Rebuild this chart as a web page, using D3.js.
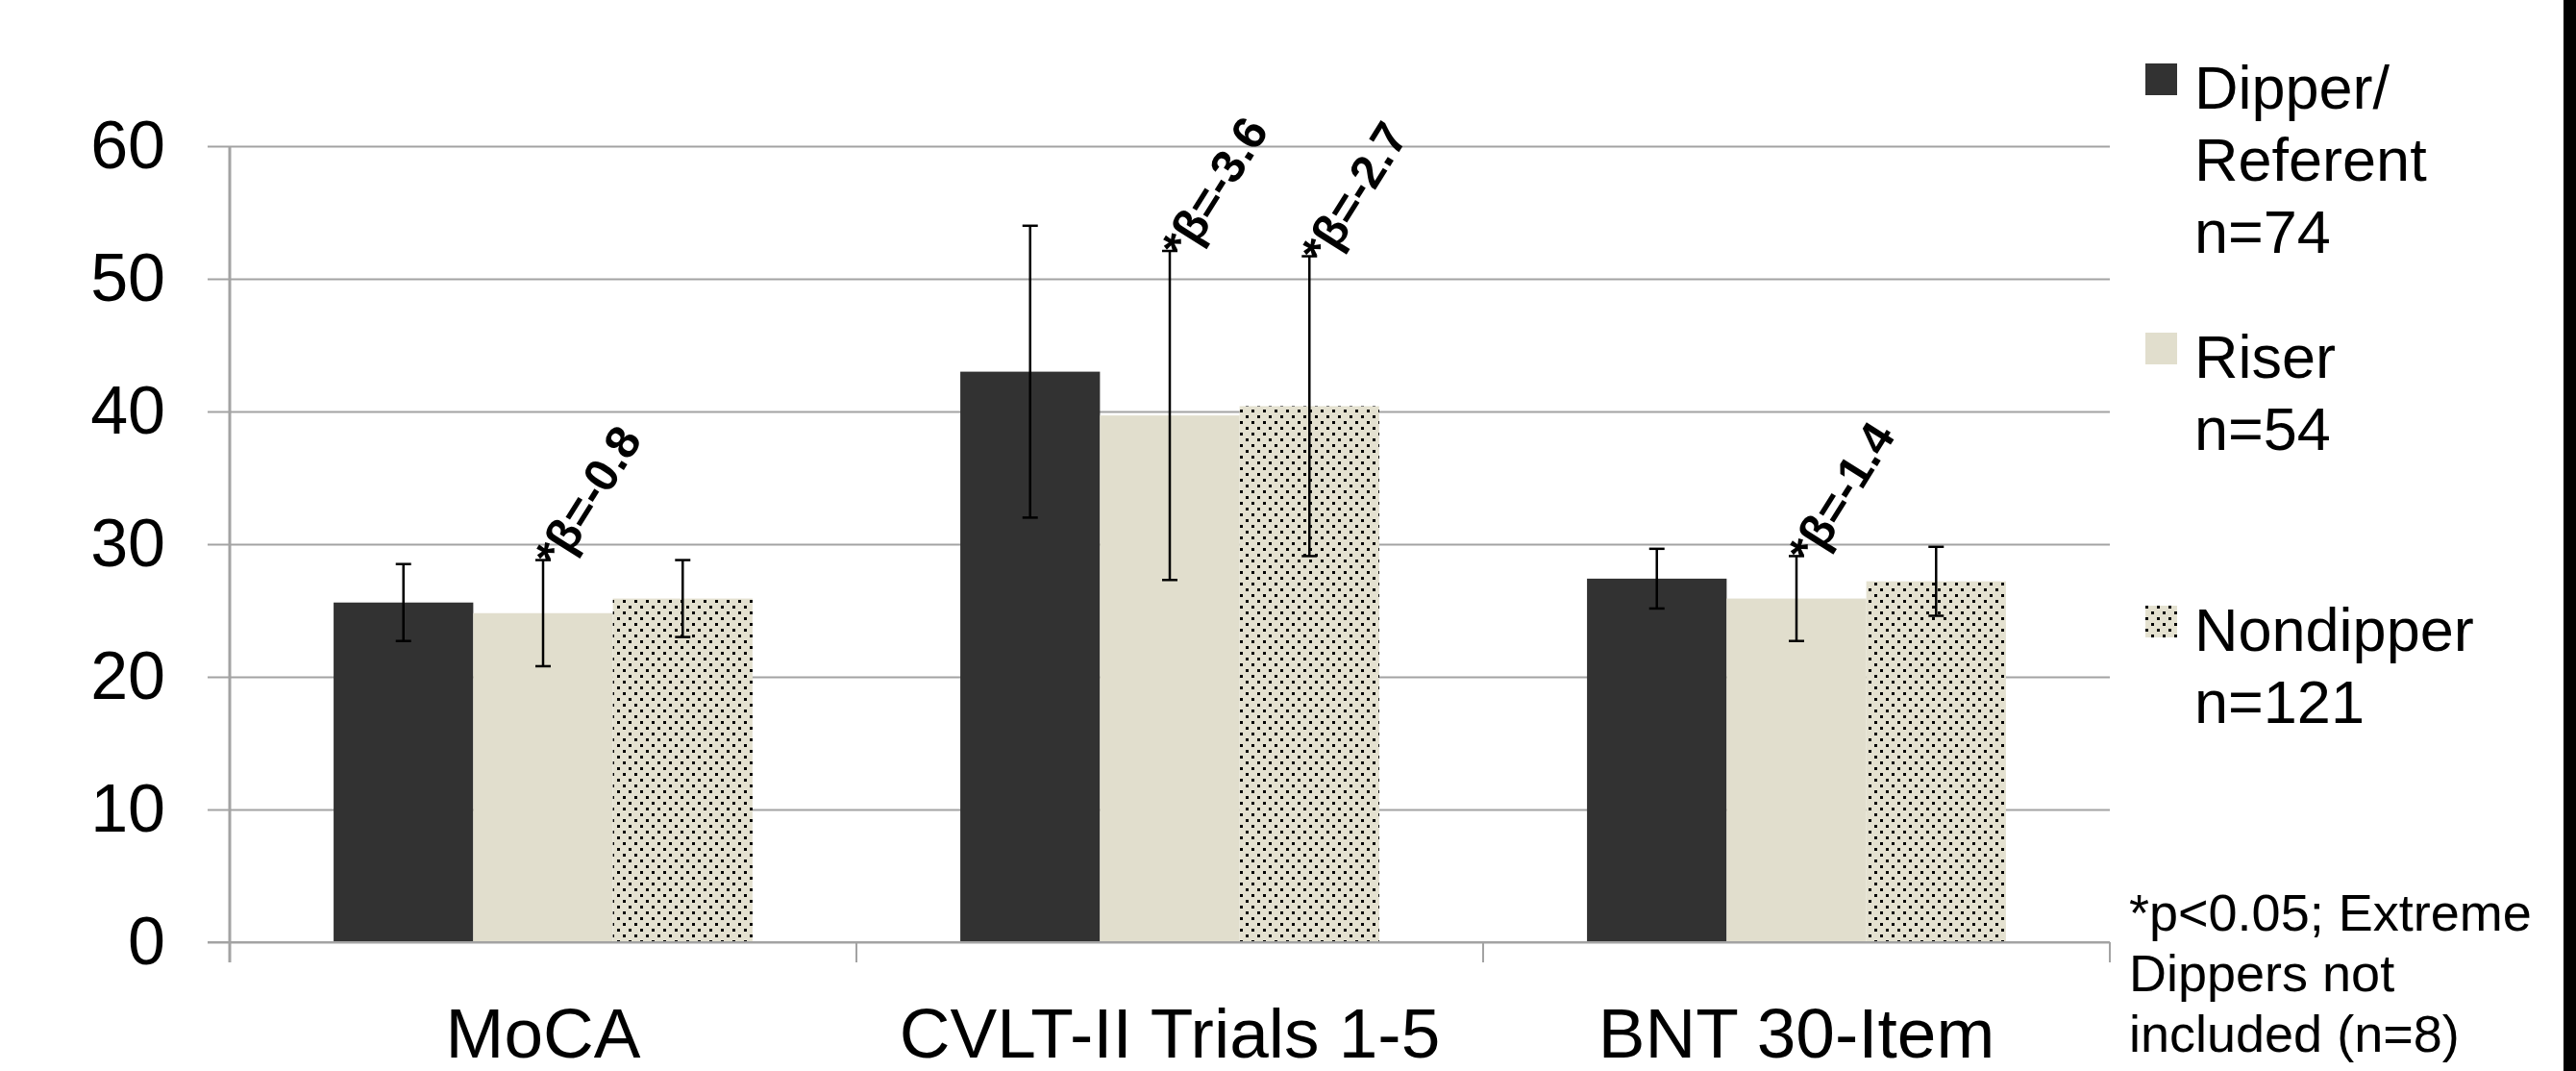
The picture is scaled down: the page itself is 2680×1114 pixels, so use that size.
<!DOCTYPE html>
<html>
<head>
<meta charset="utf-8">
<script src="https://cdn.jsdelivr.net/npm/d3@7"></script>
<style>
  body { margin: 0; background: #fff; }
  svg { display: block; font-family: "Liberation Sans", Arial, sans-serif; }
</style>
</head>
<body>
<div id="chart"></div>
<script>
// data
const categories = ["MoCA", "CVLT-II Trials 1-5", "BNT 30-Item"];
const seriesNames = ["Dipper", "Riser", "Nondipper"];
const legendLabels = [["Dipper/", "Referent", "n=74"], ["Riser", "n=54"], ["Nondipper", "n=121"]];

const dipperMeans = [25.6, 43.0, 27.4];
const dipperErr = [2.9, 11.0, 2.25];
const riserMeans = [24.8, 39.7, 25.9];
const riserErr = [4.0, 12.4, 3.2];
const nondipperMeans = [25.9, 40.4, 27.2];
const nondipperErr = [2.9, 11.3, 2.6];

const riserBeta = ["*β=-0.8", "*β=-3.6", "*β=-1.4"];
const nondipperBeta = [null, "*β=-2.7", null];

const yTicks = [0, 10, 20, 30, 40, 50, 60];
const noteLines = ["*p<0.05; Extreme", "Dippers not", "included (n=8)"];

const W = 2680, H = 1114;
const plot = {left: 239, right: 2195, top: 152, bottom: 980};

const svg = d3.select("#chart").append("svg")
    .attr("width", W)
    .attr("height", H)
    .attr("viewBox", `0 0 ${W} ${H}`);

svg.append("rect").attr("width", W).attr("height", H).attr("fill", "#fff");

// dotted fill for the nondipper bars
const defs = svg.append("defs");
const pat = defs.append("pattern")
    .attr("id", "dots")
    .attr("patternUnits", "userSpaceOnUse")
    .attr("width", 12)
    .attr("height", 12);
pat.append("rect").attr("width", 12).attr("height", 12).attr("fill", "#e4e1d0");
pat.append("rect").attr("x", 0).attr("y", 0).attr("width", 3).attr("height", 3).attr("fill", "#000");
pat.append("rect").attr("x", 6).attr("y", 6).attr("width", 3).attr("height", 3).attr("fill", "#000");

const fills = ["#323232", "#e1decd", "url(#dots)"];

const series = [
    {name: seriesNames[0], means: dipperMeans, err: dipperErr, beta: [null, null, null]},
    {name: seriesNames[1], means: riserMeans, err: riserErr, beta: riserBeta},
    {name: seriesNames[2], means: nondipperMeans, err: nondipperErr, beta: nondipperBeta}
];

const y = d3.scaleLinear().domain([0, 60]).range([plot.bottom, plot.top]);
const x0 = d3.scaleBand().domain(categories).range([plot.left, plot.right]);
const x1 = d3.scaleBand().domain(seriesNames).range([0, x0.bandwidth()]).paddingInner(0).paddingOuter(0.744);

// gridlines + y labels
const gridAxis = d3.axisLeft(y)
    .tickValues(yTicks)
    .tickSize(plot.right - 216)
    .tickPadding(44)
    .tickFormat(d3.format("d"));

const gy = svg.append("g")
    .attr("transform", `translate(${plot.right},0)`)
    .call(gridAxis);
gy.select(".domain").remove();
gy.selectAll("line").attr("stroke", "#a3a3a3").attr("stroke-width", 2);
gy.selectAll("text")
    .attr("fill", "#000")
    .style("font-size", "70px")
    .style("font-family", "'Liberation Sans', Arial, sans-serif");

// y axis line
svg.append("line")
    .attr("x1", plot.left).attr("x2", plot.left)
    .attr("y1", plot.top).attr("y2", plot.bottom + 21)
    .attr("stroke", "#a3a3a3").attr("stroke-width", 3);

// category boundary ticks
const bounds = categories.map(c => x0(c)).concat([plot.right]);
svg.append("g").selectAll("line")
    .data(bounds.slice(1))
    .join("line")
    .attr("x1", d => d).attr("x2", d => d)
    .attr("y1", plot.bottom).attr("y2", plot.bottom + 21)
    .attr("stroke", "#a3a3a3").attr("stroke-width", 2);

// bars
const groups = svg.append("g").selectAll("g")
    .data(series)
    .join("g");

groups.selectAll("rect")
    .data((s, si) => categories.map((c, i) => ({c, v: s.means[i], si, name: s.name})))
    .join("rect")
    .attr("x", d => x0(d.c) + x1(d.name))
    .attr("y", d => y(d.v))
    .attr("width", x1.bandwidth())
    .attr("height", d => y(0) - y(d.v))
    .attr("fill", d => fills[d.si]);

// redraw zero line over bar bottoms
svg.append("line")
    .attr("x1", 216).attr("x2", plot.right)
    .attr("y1", y(0)).attr("y2", y(0))
    .attr("stroke", "#a3a3a3").attr("stroke-width", 2);

// error bars
const errData = [];
series.forEach(s => categories.forEach((c, i) => {
    errData.push({
        cx: x0(c) + x1(s.name) + x1.bandwidth() / 2,
        hi: s.means[i] + s.err[i],
        lo: s.means[i] - s.err[i],
        beta: s.beta[i]
    });
}));

const eb = svg.append("g").attr("stroke", "#000").attr("stroke-width", 2.5);
eb.selectAll(".stem").data(errData).join("line")
    .attr("x1", d => d.cx).attr("x2", d => d.cx)
    .attr("y1", d => y(d.hi)).attr("y2", d => y(d.lo));
eb.selectAll(".capHi").data(errData).join("line")
    .attr("x1", d => d.cx - 8).attr("x2", d => d.cx + 8)
    .attr("y1", d => y(d.hi)).attr("y2", d => y(d.hi));
eb.selectAll(".capLo").data(errData).join("line")
    .attr("x1", d => d.cx - 8).attr("x2", d => d.cx + 8)
    .attr("y1", d => y(d.lo)).attr("y2", d => y(d.lo));

// beta annotations
svg.append("g").selectAll("text")
    .data(errData.filter(d => d.beta))
    .join("text")
    .attr("transform", d => `translate(${d.cx + 18},${y(d.hi) + 12}) rotate(-58)`)
    .style("font-size", "49px")
    .style("font-weight", "bold")
    .attr("fill", "#000")
    .text(d => d.beta);

// category labels
svg.append("g").selectAll("text")
    .data(categories)
    .join("text")
    .attr("x", d => x0(d) + x0.bandwidth() / 2)
    .attr("y", 1100)
    .attr("text-anchor", "middle")
    .style("font-size", "73px")
    .attr("fill", "#000")
    .text(d => d);

// legend
const legendTop = [66, 346, 630];
const leg = svg.append("g").selectAll("g")
    .data(series)
    .join("g")
    .attr("transform", (d, i) => `translate(2232,${legendTop[i]})`);

leg.append("rect")
    .attr("width", 33).attr("height", 33)
    .attr("fill", (d, i) => fills[i]);

leg.append("text")
    .attr("x", 51)
    .attr("y", 47)
    .style("font-size", "63px")
    .attr("fill", "#000")
    .selectAll("tspan")
    .data((d, i) => legendLabels[i])
    .join("tspan")
    .attr("x", 51)
    .attr("dy", (d, j) => j === 0 ? 0 : 75)
    .text(d => d);

// footnote
svg.append("text")
    .attr("x", 2215)
    .attr("y", 968)
    .style("font-size", "54px")
    .attr("fill", "#000")
    .selectAll("tspan")
    .data(noteLines)
    .join("tspan")
    .attr("x", 2215)
    .attr("dy", (d, j) => j === 0 ? 0 : 63)
    .text(d => d);

// dark strip at the right edge of the slide
svg.append("rect")
    .attr("x", 2667).attr("y", 0)
    .attr("width", W - 2667).attr("height", H)
    .attr("fill", "#000");
</script>
</body>
</html>
